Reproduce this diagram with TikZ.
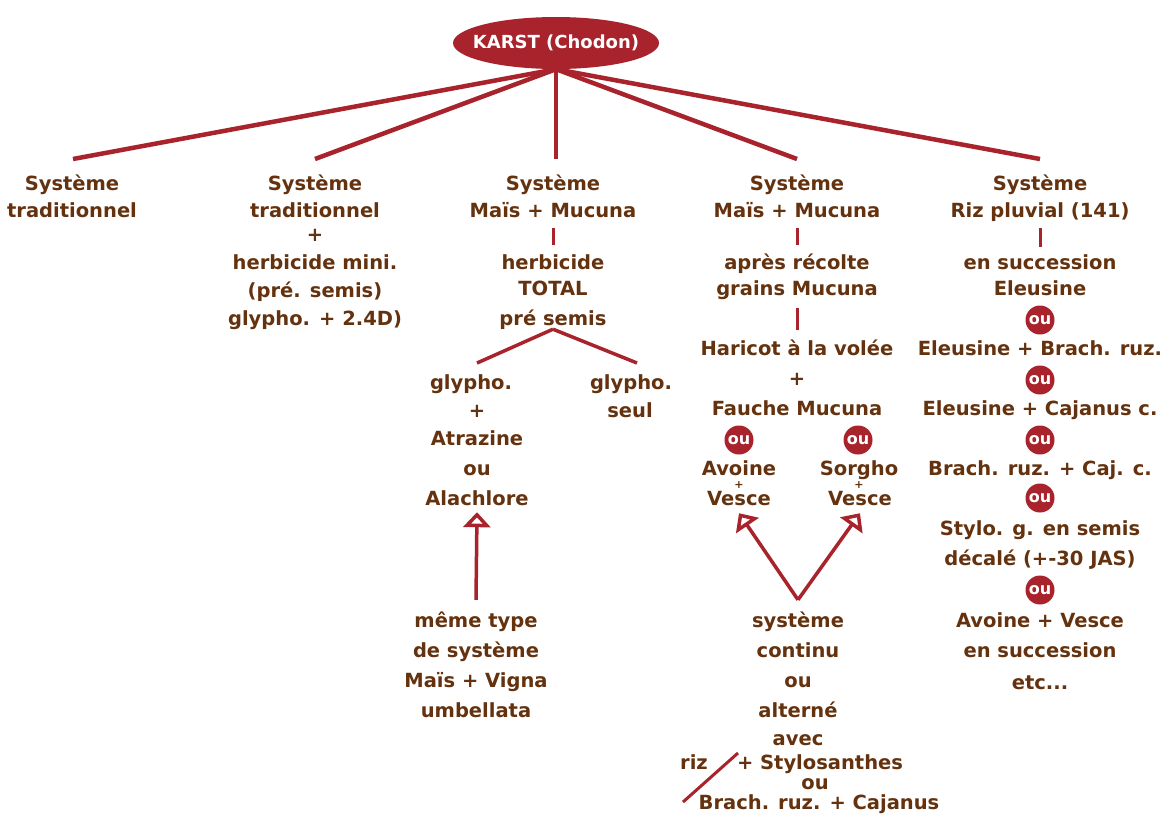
\documentclass[tikz,border=0pt]{standalone}
\usepackage{fontspec}
\setmainfont{DejaVu Sans}
\usetikzlibrary{arrows.meta,shapes.geometric}
\definecolor{txtbrown}{HTML}{64320E}
\definecolor{linered}{HTML}{A8232B}

\begin{document}
\begin{tikzpicture}[x=1pt,y=-1pt,
  lbl/.style={font=\fontsize{19.5}{22}\selectfont\bfseries, text=txtbrown,
    inner sep=0pt, anchor=base, text height=14pt, text depth=4pt},
  small/.style={font=\fontsize{11}{11}\selectfont\bfseries, text=txtbrown,
    inner sep=0pt, anchor=base},
  oubadge/.style={circle, fill=linered, text=white, inner sep=0pt,
    minimum size=29pt, font=\fontsize{16}{16}\selectfont\bfseries},
  link/.style={draw=linered, line width=4.5pt},
  tick/.style={draw=linered, line width=3pt},
  uparrow/.style={draw=linered, line width=3.5pt,
    -{Triangle[length=15pt,width=27pt,fill=white]}},
]
\fill[white] (0,0) rectangle (1170,815);
\useasboundingbox (0,0) rectangle (1170,815);

% root
\node[ellipse, fill=linered, minimum width=206pt, minimum height=52pt,
  inner xsep=-19pt, inner ysep=0pt, text=white,
  font=\fontsize{18}{20}\selectfont\bfseries]
  (root) at (556,43) {KARST (Chodon)};

% tops of the five branches
\coordinate (t1) at (73,159);
\coordinate (t2) at (315,159);
\coordinate (t3) at (556,159);
\coordinate (t4) at (797,159);
\coordinate (t5) at (1040,159);
\foreach \t in {t1,t2,t3,t4,t5} \draw[link] (root.south) -- (\t);

% column 1
\node[lbl] (c1a) at (72,190) {Système};
\node[lbl] (c1b) at (72,217) {traditionnel};

% column 2
\node[lbl] (c2a) at (315,190) {Système};
\node[lbl] (c2b) at (315,217) {traditionnel};
\node[lbl] (c2c) at (315,241) {+};
\node[lbl] (c2d) at (315,269) {herbicide mini.};
\node[lbl] (c2e) at (315,297) {(pré. semis)};
\node[lbl] (c2f) at (315,325) {glypho. + 2.4D)};

% column 3
\node[lbl] (c3a) at (553,190) {Système};
\node[lbl] (c3b) at (553,217) {Maïs + Mucuna};
\node[lbl] (c3c) at (553,269) {herbicide};
\node[lbl] (c3d) at (553,295) {TOTAL};
\node[lbl] (c3e) at (553,325) {pré semis};
\draw[tick, shorten <=7pt, shorten >=10pt] (c3b.south) -- (c3c.north);

\coordinate (forkL) at (477,363);
\coordinate (forkR) at (637,363);
\draw[link, line width=3.5pt] (c3e.south) -- (forkL);
\draw[link, line width=3.5pt] (c3e.south) -- (forkR);

\node[lbl] (c3La) at (471,389) {glypho.};
\node[lbl] (c3Lb) at (477,417) {+};
\node[lbl] (c3Lc) at (477,445) {Atrazine};
\node[lbl] (c3Ld) at (477,475) {ou};
\node[lbl] (c3Le) at (477,505) {Alachlore};
\node[lbl] (c3Ra) at (631,389) {glypho.};
\node[lbl] (c3Rb) at (630,417) {seul};

\node[lbl] (m1) at (476,627) {même type};
\node[lbl] (m2) at (476,657) {de système};
\node[lbl] (m3) at (476,687) {Maïs + Vigna};
\node[lbl] (m4) at (476,717) {umbellata};
\draw[uparrow] ([yshift=13pt]m1.north) -- ([yshift=-3pt]c3Le.south);

% column 4
\node[lbl] (c4a) at (797,190) {Système};
\node[lbl] (c4b) at (797,217) {Maïs + Mucuna};
\node[lbl] (c4c) at (797,269) {après récolte};
\node[lbl] (c4d) at (797,295) {grains Mucuna};
\node[lbl] (c4e) at (797,355) {Haricot à la volée};
\node[lbl] (c4f) at (797,385) {+};
\node[lbl] (c4g) at (797,415) {Fauche Mucuna};
\draw[tick, shorten <=7pt, shorten >=10pt] (c4b.south) -- (c4c.north);
\draw[tick, shorten <=9pt, shorten >=11pt] (c4d.south) -- (c4e.north);

\node[oubadge] (ou4L) at (739,440) {ou};
\node[oubadge] (ou4R) at (858,440) {ou};
\node[lbl] (av1) at (739,475) {Avoine};
\node[small] (av2) at (739,488) {+};
\node[lbl] (av3) at (739,505) {Vesce};
\node[lbl] (so1) at (859,475) {Sorgho};
\node[small] (so2) at (859,488) {+};
\node[lbl] (so3) at (860,505) {Vesce};

\node[lbl] (s1) at (798,627) {système};
\node[lbl] (s2) at (798,657) {continu};
\node[lbl] (s3) at (798,687) {ou};
\node[lbl] (s4) at (798,717) {alterné};
\node[lbl] (s5) at (798,745) {avec};
\node[lbl] (s6) at (694,769) {riz};
\node[lbl] (s7) at (820,769) {+ Stylosanthes};
\node[lbl] (s8) at (815,789) {ou};
\node[lbl] (s9) at (819,809) {Brach. ruz. + Cajanus};
\coordinate (vtx) at ([yshift=13pt]s1.north);
\draw[uparrow] (vtx) -- ([yshift=-4pt]av3.south);
\draw[uparrow] (vtx) -- ([yshift=-4pt]so3.south);
% stroke between the two alternatives
\draw[link, line width=3pt] (683,802) -- (738,753);

% column 5
\node[lbl] (c5a) at (1040,190) {Système};
\node[lbl] (c5b) at (1040,217) {Riz pluvial (141)};
\node[lbl] (c5c) at (1040,269) {en succession};
\node[lbl] (c5d) at (1040,295) {Eleusine};
\draw[tick, shorten <=7pt, shorten >=8pt] (c5b.south) -- (c5c.north);
\node[oubadge] (ou5a) at (1040,320) {ou};
\node[lbl] (c5e) at (1040,355) {Eleusine + Brach. ruz.};
\node[oubadge] (ou5b) at (1040,380) {ou};
\node[lbl] (c5f) at (1040,415) {Eleusine + Cajanus c.};
\node[oubadge] (ou5c) at (1040,440) {ou};
\node[lbl] (c5g) at (1040,475) {Brach. ruz. + Caj. c.};
\node[oubadge] (ou5d) at (1040,498) {ou};
\node[lbl] (c5h) at (1040,535) {Stylo. g. en semis};
\node[lbl] (c5i) at (1040,565) {décalé (+-30 JAS)};
\node[oubadge] (ou5e) at (1040,590) {ou};
\node[lbl] (c5j) at (1040,627) {Avoine + Vesce};
\node[lbl] (c5k) at (1040,657) {en succession};
\node[lbl] (c5l) at (1040,689) {etc...};
\end{tikzpicture}
\end{document}
